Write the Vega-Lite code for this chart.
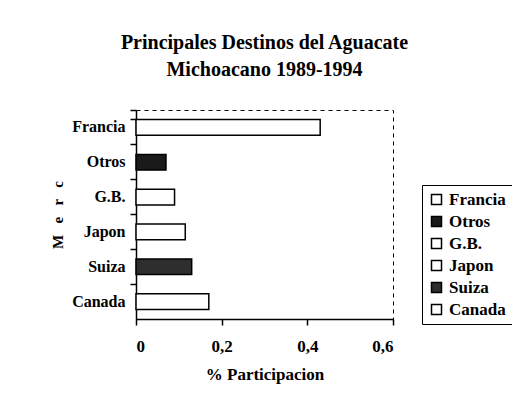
{
  "$schema": "https://vega.github.io/schema/vega-lite/v6.json",
  "autosize": {"type": "none"},
  "width": 257,
  "height": 209,
  "padding": {"left": 136, "top": 110, "right": 119, "bottom": 97},
  "background": "white",
  "title": {
    "text": ["Principales Destinos del Aguacate", "Michoacano 1989-1994"],
    "font": "Liberation Serif",
    "fontSize": 20,
    "fontWeight": "bold",
    "color": "black",
    "lineHeight": 27,
    "anchor": "middle",
    "frame": "group",
    "offset": 22
  },
  "data": {
    "values": [
      {"destino": "Francia", "participacion": 0.43},
      {"destino": "Otros", "participacion": 0.07},
      {"destino": "G.B.", "participacion": 0.09},
      {"destino": "Japon", "participacion": 0.115},
      {"destino": "Suiza", "participacion": 0.13},
      {"destino": "Canada", "participacion": 0.17}
    ]
  },
  "mark": {"type": "bar", "stroke": "black", "strokeWidth": 1.5},
  "encoding": {
    "y": {
      "field": "destino",
      "type": "nominal",
      "sort": ["Francia", "Otros", "G.B.", "Japon", "Suiza", "Canada"],
      "scale": {"paddingInner": 0.55, "paddingOuter": 0.275},
      "axis": {
        "title": "M\u00a0\u00a0 e\u00a0\u00a0 r\u00a0\u00a0 c",
        "titleFont": "Liberation Serif",
        "titleFontSize": 15,
        "titleFontWeight": "bold",
        "titleColor": "black",
        "titlePadding": 6,
        "labelFont": "Liberation Serif",
        "labelFontSize": 16,
        "labelFontWeight": "bold",
        "labelColor": "black",
        "labelPadding": 5,
        "ticks": true,
        "bandPosition": -0.611,
        "tickExtra": true,
        "tickSize": 6,
        "tickWidth": 1.5,
        "tickColor": "#000000",
        "tickOpacity": 1,
        "domainColor": "black",
        "domainWidth": 1.5
      }
    },
    "x": {
      "field": "participacion",
      "type": "quantitative",
      "scale": {"domain": [0, 0.6]},
      "axis": {
        "title": "% Participacion",
        "titleFont": "Liberation Serif",
        "titleFontSize": 17,
        "titleFontWeight": "bold",
        "titleColor": "black",
        "titlePadding": 12,
        "values": [0, 0.2, 0.4, 0.6],
        "labelExpr": "replace(format(datum.value, '.1~f'), '.', ',')",
        "labelFont": "Liberation Serif",
        "labelFontSize": 17,
        "labelFontWeight": "bold",
        "labelColor": "black",
        "labelPadding": 13,
        "ticks": true,
        "tickSize": 6,
        "tickWidth": 1.5,
        "tickColor": "#000000",
        "tickOpacity": 1,
        "domainColor": "black",
        "domainWidth": 1.5,
        "grid": false
      }
    },
    "fill": {
      "field": "destino",
      "type": "nominal",
      "sort": ["Francia", "Otros", "G.B.", "Japon", "Suiza", "Canada"],
      "scale": {
        "domain": ["Francia", "Otros", "G.B.", "Japon", "Suiza", "Canada"],
        "range": ["white", "#1a1a1a", "white", "white", "#2e2e2e", "white"]
      },
      "legend": {
        "title": null,
        "orient": "none",
        "legendX": 286,
        "legendY": 75,
        "symbolType": "square",
        "symbolSize": 100,
        "symbolStrokeColor": "black",
        "symbolStrokeWidth": 1.5,
        "labelFont": "Liberation Serif",
        "labelFontSize": 17,
        "labelFontWeight": "bold",
        "labelColor": "black",
        "labelOffset": 4,
        "rowPadding": 4,
        "strokeColor": "black",
        "padding": 6
      }
    }
  },
  "config": {
    "view": {"stroke": "black", "strokeDash": [4, 4], "strokeWidth": 1}
  }
}
